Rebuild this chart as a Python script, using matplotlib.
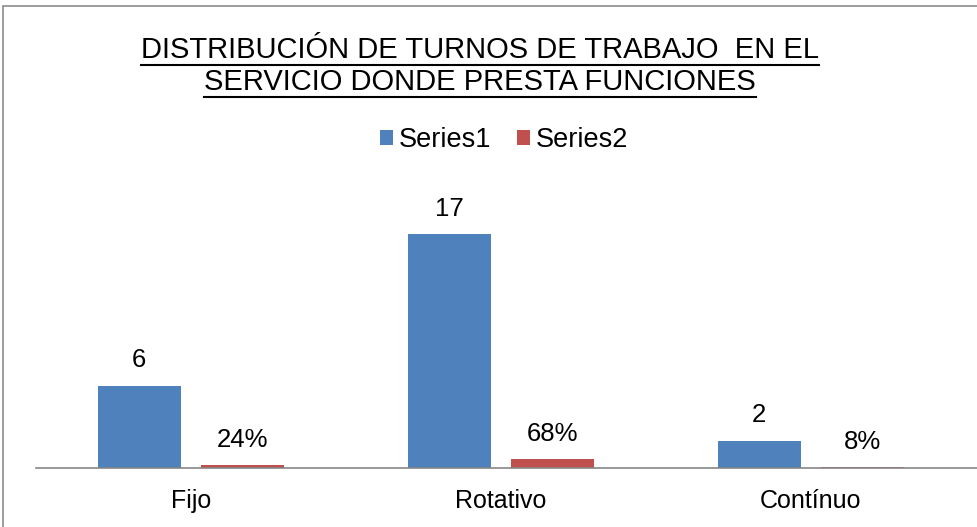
import numpy as np
import matplotlib.pyplot as plt
from matplotlib.lines import Line2D
from matplotlib.patches import Rectangle

plt.rcParams['font.family'] = ['Liberation Sans', 'DejaVu Sans']

# data
categorias = ['Fijo', 'Rotativo', 'Contínuo']
series1 = [6, 17, 2]
series2 = [0.24, 0.68, 0.08]
etiquetas1 = ['6', '17', '2']
etiquetas2 = ['24%', '68%', '8%']
titulo = ['DISTRIBUCIÓN DE TURNOS DE TRABAJO  EN EL',
          'SERVICIO DONDE PRESTA FUNCIONES']

azul = '#4F81BD'
rojo = '#C0504D'

W, H = 977, 527
fig = plt.figure(figsize=(W / 100, H / 100), dpi=100)

# chart border (cut off at right and bottom like the reference)
fig.add_artist(Rectangle((3 / W, -0.1), 1.2, 1 - 6 / H + 0.1, transform=fig.transFigure,
                         fill=False, edgecolor='#8c8c8c', linewidth=1.2))

ax = fig.add_axes([36 / W, 1 - 468 / H, 942 / W, 275 / H])
x = np.arange(len(categorias))
ancho = 0.267
off = 0.167
b1 = ax.bar(x - off, series1, ancho, color=azul, label='Series1')
b2 = ax.bar(x + off, series2, ancho, color=rojo, label='Series2')

ax.set_xlim(-0.5, 2.539)
ax.set_ylim(0, 20)
for s in ['top', 'right', 'left']:
    ax.spines[s].set_visible(False)
ax.spines['bottom'].set_color('#868686')
ax.spines['bottom'].set_linewidth(1.2)
ax.set_yticks([])
ax.set_xticks(x)
ax.set_xticklabels(categorias, fontsize=18)
ax.tick_params(axis='x', length=0, pad=15)

for barras, textos_lab in [(b1, etiquetas1), (b2, etiquetas2)]:
    for rect, t in zip(barras, textos_lab):
        ax.annotate(t, (rect.get_x() + rect.get_width() / 2, rect.get_height()),
                    xytext=(0, 13), textcoords='offset points', ha='center', va='baseline',
                    fontsize=18.5)

leg = fig.legend(handles=[b1, b2], labels=['Series1', 'Series2'], loc='center',
                 bbox_to_anchor=(504 / W, 1 - 140 / H), ncol=2, frameon=False, fontsize=19.5,
                 handlelength=0.48, handleheight=0.48, handletextpad=0.22, columnspacing=0.96,
                 borderpad=0)

# title lines with underline
ys = [50, 82]
textos = []
for t, yy in zip(titulo, ys):
    textos.append(fig.text(480 / W, 1 - yy / H, t, ha='center', va='center', fontsize=21))

fig.canvas.draw()
r = fig.canvas.get_renderer()
for tx in textos:
    bb = tx.get_window_extent(r)
    yline = bb.y0 - 1
    fig.add_artist(Line2D([bb.x0 / W, bb.x1 / W], [yline / H, yline / H],
                          transform=fig.transFigure, color='black', linewidth=1.5))

fig.savefig('out.png', dpi=100)
